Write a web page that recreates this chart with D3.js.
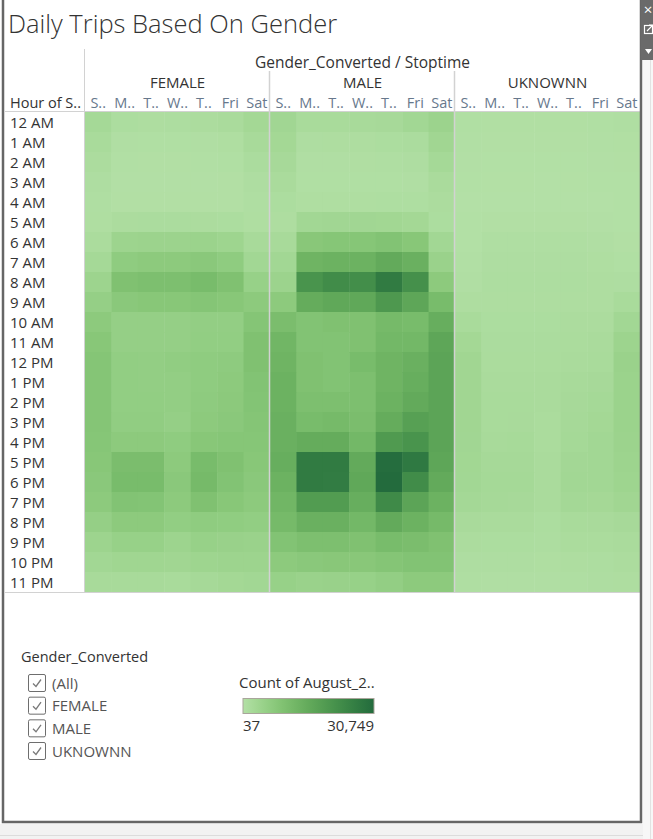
<!DOCTYPE html>
<html>
<head>
<meta charset="utf-8">
<script src="https://cdn.jsdelivr.net/npm/d3@7"></script>
<style>
  html, body { margin: 0; padding: 0; background: #ffffff; }
  svg { display: block; }
  text { font-family: "Open Sans", "Lato", "DejaVu Sans", sans-serif; }
</style>
</head>
<body>
<div id="chart"></div>
<script>
// ---------------- DATA ----------------
const hours = ["12 AM","1 AM","2 AM","3 AM","4 AM","5 AM","6 AM","7 AM","8 AM","9 AM","10 AM","11 AM",
               "12 PM","1 PM","2 PM","3 PM","4 PM","5 PM","6 PM","7 PM","8 PM","9 PM","10 PM","11 PM"];
const genders = ["FEMALE", "MALE", "UKNOWNN"];
const days = ["Sunday","Monday","Tuesday","Wednesday","Thursday","Friday","Saturday"];
const dayLabels = ["S..","M..","T..","W..","T..","Fri","Sat"];

// counts per hour (rows) x day Sun..Sat (columns)
const femaleCounts = [
  [2500,1200,1000,1100,1300,1600,2800],
  [1800, 600, 500, 500, 600, 800,2000],
  [1300, 350, 300, 300, 350, 500,1400],
  [ 900, 250, 250, 250, 250, 300, 900],
  [ 700, 300, 300, 300, 300, 300, 700],
  [ 800,1300,1400,1400,1300,1200, 800],
  [1500,4000,4200,4200,4400,3800,2000],
  [2500,6500,7000,7000,7500,6500,3000],
  [4000,9500,10000,10000,11000,9500,5000],
  [5500,7500,8000,8000,8500,8000,7000],
  [7000,5500,5500,5500,5800,5800,8500],
  [8000,5500,5500,5500,6000,6000,9500],
  [8500,6000,5800,6200,6500,6800,9500],
  [8500,6000,5800,5800,6500,7000,9000],
  [8500,6000,6000,5800,6800,7200,8800],
  [8500,6200,6200,5500,7000,7500,8500],
  [8300,7000,7000,6500,8000,8200,8300],
  [8000,10500,10500,7000,11000,9500,8000],
  [7500,11000,11000,7500,11500,9000,7500],
  [7000,9000,8800,7000,9500,8000,7000],
  [5500,7000,7000,6000,6500,6300,6000],
  [4000,5000,5000,4000,5000,4800,4500],
  [3000,3500,3500,3300,3800,4000,4000],
  [2000,2000,2000,1800,2300,2800,3000]
];
const maleCounts = [
  [3200,1800,1800,2000,2200,3000,4200],
  [2800, 900,1000,1000,1200,1400,3300],
  [2200, 600, 600, 650, 700, 900,2500],
  [1600, 500, 500, 500, 500, 600,1700],
  [1200, 800, 800, 800, 850, 850,1300],
  [1000,3000,3200,3200,3100,2800,1200],
  [2000,7800,8200,8200,9000,8000,3000],
  [3000,13000,13500,13500,15500,14000,4500],
  [4200,21000,23000,22500,27000,22000,7000],
  [7000,15000,16000,16000,20000,16500,11000],
  [10500,9000,9500,9500,11500,11000,14500],
  [12500,9000,9000,9500,12000,12000,16500],
  [13000,9500,9000,11000,13000,14000,17000],
  [13500,9500,9000,10000,13000,14500,17000],
  [13500,10000,10000,10000,13500,15500,17000],
  [14000,11000,11500,10500,15000,18000,17000],
  [14000,15000,15000,12000,19500,21000,17000],
  [14500,27000,27000,15500,30200,27500,16500],
  [13500,27000,26800,16000,30749,23000,15500],
  [12500,19000,19000,14500,23500,17000,13500],
  [11500,14000,14000,12000,15500,13500,11500],
  [9000,10000,10000,9500,11000,10500,9500],
  [7000,7500,7800,7800,8500,9000,9000],
  [5000,4500,4800,5000,5800,7000,7000]
];
const unknownCounts = [
  [ 500, 450, 450, 450, 450, 500, 700],
  [ 350, 300, 300, 300, 300, 400, 450],
  [ 250, 200, 200, 200, 200, 250, 300],
  [ 150, 120, 120, 100, 120, 150, 200],
  [ 100,  80,  80,  37,  80, 100, 150],
  [ 150, 300, 300, 300, 300, 250, 150],
  [ 200, 700, 700, 700, 700, 600, 300],
  [ 400, 900, 900, 900, 900, 800, 500],
  [ 600,1100,1100,1100,1100,1000, 900],
  [1000,1000,1000,1000,1000,1000,1800],
  [1800,1200,1200,1200,1300,1300,3000],
  [2800,1400,1400,1400,1500,1600,4000],
  [3300,1500,1500,1500,1700,1800,4500],
  [3300,1700,1600,1700,2000,2200,4400],
  [3300,1800,1800,1600,2200,2500,4400],
  [3300,1800,1900,1500,2300,2800,4300],
  [3200,2000,2100,1500,2500,3000,4200],
  [3100,2300,2300,1600,2900,3000,4000],
  [3000,2500,2500,1700,3000,3000,3800],
  [2700,2300,2200,1700,2700,2600,3300],
  [1900,1700,1600,1200,1800,1900,2200],
  [1300,1200,1200,1100,1500,1500,1700],
  [ 900, 900, 900, 800,1000,1100,1300],
  [ 700, 600, 600, 600, 700, 900,1000]
];
const countsByGender = [femaleCounts, maleCounts, unknownCounts];
const colorMin = 37, colorMax = 30749;
const colorStops = ["#b3e0a6", "#88c977", "#63aa59", "#3f8c48", "#236b3d"];
const filterItems = ["(All)", "FEMALE", "MALE", "UKNOWNN"];

// ---------------- CHART ----------------
const W = 653, H = 839;
const svg = d3.select("#chart").append("svg").attr("width", W).attr("height", H);

// page background pieces
svg.append("rect").attr("x", 0).attr("y", 0).attr("width", W).attr("height", H).attr("fill", "#ffffff");
svg.append("rect").attr("x", 0).attr("y", 824).attr("width", W).attr("height", 15).attr("fill", "#f2f2f2");
svg.append("line").attr("x1", 0).attr("x2", W).attr("y1", 835.5).attr("y2", 835.5).attr("stroke", "#dcdcdc");
svg.append("rect").attr("x", 643).attr("y", 0).attr("width", 10).attr("height", 839).attr("fill", "#f7f7f7");
svg.append("line").attr("x1", 650.5).attr("x2", 650.5).attr("y1", 60).attr("y2", 839).attr("stroke", "#e2e2e2");

const color = d3.scaleSequential(d3.interpolateRgbBasis(colorStops)).domain([colorMin, colorMax]);

const gridLeft = 85, gridRight = 640, gridTop = 112, gridBottom = 592;
const xPanel = d3.scaleBand().domain(genders).range([gridLeft, gridRight]).paddingInner(0);
const xDay = d3.scaleBand().domain(days).range([0, xPanel.bandwidth()]);
const y = d3.scaleBand().domain(hours).range([gridTop, gridBottom]);

// cells
const cells = [];
genders.forEach((g, gi) => {
  hours.forEach((h, hi) => {
    days.forEach((d, di) => {
      cells.push({ gender: g, hour: h, day: d, value: countsByGender[gi][hi][di] });
    });
  });
});
svg.append("g").selectAll("rect").data(cells).join("rect")
  .attr("x", d => xPanel(d.gender) + xDay(d.day))
  .attr("y", d => y(d.hour))
  .attr("width", xDay.bandwidth() + 0.5)
  .attr("height", y.bandwidth() + 0.5)
  .attr("fill", d => color(d.value));

// grid lines
const lineColor = "#d2d2d2";
svg.append("line").attr("x1", 5).attr("x2", gridRight).attr("y1", gridTop - 0.5).attr("y2", gridTop - 0.5)
  .attr("stroke", lineColor);
svg.append("line").attr("x1", 5).attr("x2", gridRight).attr("y1", gridBottom + 0.5).attr("y2", gridBottom + 0.5)
  .attr("stroke", lineColor);
svg.append("line").attr("x1", gridLeft - 0.5).attr("x2", gridLeft - 0.5).attr("y1", 49).attr("y2", gridBottom)
  .attr("stroke", lineColor);
genders.slice(1).forEach(g => {
  svg.append("line").attr("x1", xPanel(g) - 0.5).attr("x2", xPanel(g) - 0.5)
    .attr("y1", 71).attr("y2", gridBottom).attr("stroke", lineColor).attr("stroke-width", 1.5);
});

// title
svg.append("text").attr("x", 8).attr("y", 33).text("Daily Trips Based On Gender")
  .attr("font-size", 25.5).attr("font-weight", 300).attr("fill", "#333333");

// header
svg.append("text").attr("x", (gridLeft + gridRight) / 2).attr("y", 68).attr("text-anchor", "middle")
  .text("Gender_Converted / Stoptime").attr("font-size", 15.5).attr("fill", "#333333");
svg.append("g").selectAll("text").data(genders).join("text")
  .attr("x", g => xPanel(g) + xPanel.bandwidth() / 2).attr("y", 87.5).attr("text-anchor", "middle")
  .text(g => g).attr("font-size", 15).attr("font-weight", 500).attr("fill", "#333333");
const dayHeader = [];
genders.forEach(g => days.forEach((d, i) => dayHeader.push({ g, d, label: dayLabels[i] })));
svg.append("g").selectAll("text").data(dayHeader).join("text")
  .attr("x", o => xPanel(o.g) + xDay(o.d) + xDay.bandwidth() / 2).attr("y", 107.5).attr("text-anchor", "middle")
  .text(o => o.label).attr("font-size", 14.5).attr("fill", "#67788c");
svg.append("text").attr("x", 10).attr("y", 107.5).text("Hour of S..")
  .attr("font-size", 14.5).attr("fill", "#333333");

// row labels
svg.append("g").selectAll("text").data(hours).join("text")
  .attr("x", 10).attr("y", h => y(h) + y.bandwidth() / 2 + 5.5)
  .text(h => h).attr("font-size", 15).attr("fill", "#333333");

// filter legend
svg.append("text").attr("x", 21).attr("y", 662).text("Gender_Converted")
  .attr("font-size", 14.5).attr("fill", "#333333");
const fy = d3.scalePoint().domain(filterItems).range([683, 751]);
const fg = svg.append("g").selectAll("g").data(filterItems).join("g")
  .attr("transform", d => `translate(28,${fy(d)})`);
fg.append("rect").attr("x", 0.5).attr("y", -8.5).attr("width", 17).attr("height", 17).attr("rx", 1.5)
  .attr("fill", "#ffffff").attr("stroke", "#6e6e6e");
fg.append("path").attr("d", "M5,0.5 L8,3.5 L13,-3.5").attr("fill", "none").attr("stroke", "#7a7a7a").attr("stroke-width", 1.3);
fg.append("text").attr("x", 24).attr("y", 5.5).text(d => d).attr("font-size", 15).attr("fill", "#555555");

// color legend
svg.append("text").attr("x", 239).attr("y", 688).text("Count of August_2..")
  .attr("font-size", 15).attr("fill", "#333333");
const defs = svg.append("defs");
const grad = defs.append("linearGradient").attr("id", "lg").attr("x1", "0%").attr("x2", "100%");
d3.range(0, 1.0001, 0.1).forEach(t => {
  grad.append("stop").attr("offset", (t * 100) + "%").attr("stop-color", color(colorMin + t * (colorMax - colorMin)));
});
const legendX = d3.scaleLinear().domain([colorMin, colorMax]).range([243, 374]);
svg.append("rect").attr("x", legendX(colorMin)).attr("y", 698.5)
  .attr("width", legendX(colorMax) - legendX(colorMin)).attr("height", 15)
  .attr("fill", "url(#lg)").attr("stroke", "#a9a59b").attr("stroke-width", 1);
svg.append("text").attr("x", legendX(colorMin)).attr("y", 731).text(d3.format(",")(colorMin))
  .attr("font-size", 15).attr("fill", "#333333");
svg.append("text").attr("x", legendX(colorMax)).attr("y", 731).attr("text-anchor", "end")
  .text(d3.format(",")(colorMax)).attr("font-size", 15).attr("fill", "#333333");

// frame
svg.append("path").attr("d", "M3,0 V822 H641 V0").attr("fill", "none").attr("stroke", "#666666").attr("stroke-width", 2.5);

// toolbar
svg.append("rect").attr("x", 641).attr("y", 0).attr("width", 12).attr("height", 60).attr("fill", "#6a6a6a");
svg.append("text").attr("x", 648).attr("y", 15).attr("text-anchor", "middle").text("×")
  .attr("font-size", 15).attr("fill", "#ffffff");
svg.append("rect").attr("x", 644.5).attr("y", 25.5).attr("width", 8).attr("height", 8).attr("fill", "none")
  .attr("stroke", "#ffffff").attr("stroke-width", 1.2);
svg.append("path").attr("d", "M647,31 L653,25 M649,25 H653 V29").attr("stroke", "#ffffff").attr("fill", "none").attr("stroke-width", 1.2);
svg.append("path").attr("d", "M645,49 L652,49 L648.5,54 Z").attr("fill", "#ffffff");
</script>
</body>
</html>
